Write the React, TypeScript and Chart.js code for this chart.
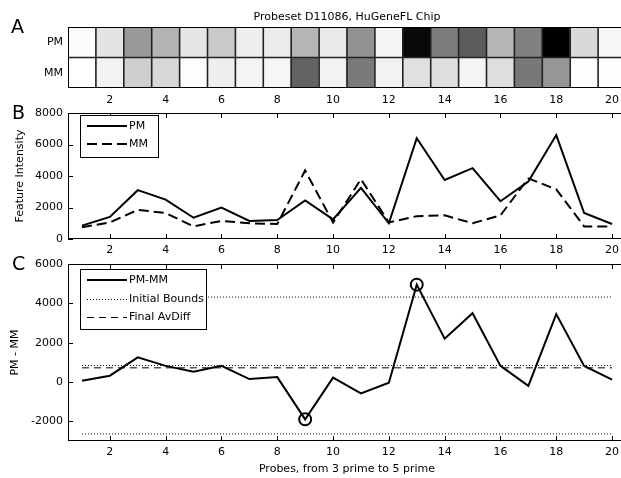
import React, { useEffect, useRef } from "react";
import { Chart, registerables } from "chart.js";

Chart.register(...registerables);

// ---------- data ----------
const probes = [1, 2, 3, 4, 5, 6, 7, 8, 9, 10, 11, 12, 13, 14, 15, 16, 17, 18, 19, 20];
const pmValues = [850, 1400, 3100, 2500, 1350, 2000, 1150, 1200, 2450, 1250, 3250, 1000, 6400, 3750, 4500, 2400, 3650, 6600, 1650, 950];
const mmValues = [750, 1050, 1850, 1650, 800, 1150, 1000, 950, 4350, 1050, 3800, 1050, 1450, 1500, 1000, 1500, 3850, 3150, 800, 800];
const diffValues = [60, 320, 1250, 820, 520, 820, 150, 250, -1900, 220, -580, -40, 4950, 2200, 3500, 820, -200, 3450, 820, 120];
const initialBounds = [4320, 840, -2640];
const finalAvDiff = 720;
const outlierProbes = [9, 13];
const xTickValues = [2, 4, 6, 8, 10, 12, 14, 16, 18, 20];
const intensityTicks = [0, 2000, 4000, 6000, 8000];
const diffTicks = [-2000, 0, 2000, 4000, 6000];
const rowLabels = ["PM", "MM"];
const chartTitle = "Probeset D11086, HuGeneFL Chip";
const xAxisTitle = "Probes, from 3 prime to 5 prime";
const intensityTitle = "Feature Intensity";
const diffTitle = "PM - MM";

// ---------- styling / layout ----------
const FONT = '"DejaVu Sans", sans-serif';
const CW = 640;
const CH = 478;
const AXIS_W = 68;
const RIGHT_PAD = CW - 626;

const allVals = [...pmValues, ...mmValues];
const vMin = Math.min(...allVals);
const vMax = Math.max(...allVals);
const grayFor = (v: number) => {
  const g = Math.round(255 * (1 - (v - vMin) / (vMax - vMin)));
  return `rgb(${g},${g},${g})`;
};

type FrameOpts = {
  letter?: { text: string; x: number; y: number };
  title?: { text: string; y: number };
  ticks?: boolean;
  cellGrid?: boolean;
  legend?: { x: number; y: number; w: number; h: number; items: { dataset: number; y: number }[] };
};

const framePlugin = {
  id: "frame",
  afterDraw(chart: any, _args: any, opts: FrameOpts) {
    const { ctx, chartArea: ca } = chart;
    const L = Math.round(ca.left);
    const T = Math.round(ca.top);
    const R = Math.round(ca.right);
    const B = Math.round(ca.bottom);
    ctx.save();
    ctx.strokeStyle = "#000";
    ctx.lineWidth = 1;
    ctx.setLineDash([]);
    if (opts.cellGrid) {
      const xs = chart.scales.x;
      const ys = chart.scales.y;
      ctx.strokeStyle = "#222";
      ctx.lineWidth = 1.6;
      ctx.beginPath();
      for (let i = 1; i < probes.length; i++) {
        const px = (xs.getPixelForValue(i - 1) + xs.getPixelForValue(i)) / 2;
        ctx.moveTo(px, T);
        ctx.lineTo(px, B);
      }
      for (let r = 1; r < rowLabels.length; r++) {
        const py = ys.getPixelForValue(r);
        ctx.moveTo(L, py);
        ctx.lineTo(R, py);
      }
      ctx.stroke();
      ctx.strokeStyle = "#000";
      ctx.lineWidth = 1;
    }
    if (opts.ticks) {
      const xs = chart.scales.x;
      const ys = chart.scales.y;
      const len = 5;
      ctx.beginPath();
      xs.ticks.forEach((t: any) => {
        const px = Math.round(xs.getPixelForValue(t.value)) + 0.5;
        ctx.moveTo(px, B);
        ctx.lineTo(px, B - len);
        ctx.moveTo(px, T);
        ctx.lineTo(px, T + len);
      });
      ys.ticks.forEach((t: any) => {
        const py = Math.round(ys.getPixelForValue(t.value)) + 0.5;
        ctx.moveTo(L, py);
        ctx.lineTo(L + len, py);
      });
      ctx.stroke();
    }
    if (opts.legend) {
      const lg = opts.legend;
      ctx.fillStyle = "#fff";
      ctx.fillRect(lg.x, lg.y, lg.w, lg.h);
      ctx.strokeRect(lg.x + 0.5, lg.y + 0.5, lg.w, lg.h);
      ctx.font = `11px ${FONT}`;
      ctx.textBaseline = "middle";
      ctx.textAlign = "left";
      lg.items.forEach((it) => {
        const ds = chart.data.datasets[it.dataset];
        ctx.save();
        ctx.lineWidth = ds.borderWidth;
        ctx.setLineDash(ds.borderDash || []);
        ctx.strokeStyle = ds.borderColor;
        const yy = ds.borderWidth % 2 === 1 ? Math.round(it.y) + 0.5 : Math.round(it.y);
        ctx.beginPath();
        ctx.moveTo(lg.x + 7, yy);
        ctx.lineTo(lg.x + 47, yy);
        ctx.stroke();
        ctx.restore();
        ctx.fillStyle = "#000";
        ctx.fillText(ds.label, lg.x + 49, it.y + 0.5);
      });
    }
    ctx.strokeStyle = "#000";
    ctx.lineWidth = 1;
    ctx.setLineDash([]);
    ctx.strokeRect(L + 0.5, T + 0.5, R - L - 1, B - T - 1);
    ctx.fillStyle = "#000";
    if (opts.letter) {
      ctx.font = `19px ${FONT}`;
      ctx.textAlign = "left";
      ctx.textBaseline = "alphabetic";
      ctx.fillText(opts.letter.text, opts.letter.x, opts.letter.y);
    }
    if (opts.title) {
      ctx.font = `11px ${FONT}`;
      ctx.textAlign = "center";
      ctx.textBaseline = "middle";
      ctx.fillText(opts.title.text, (L + R) / 2, opts.title.y);
    }
    ctx.restore();
  },
};

const tickFont = { family: FONT, size: 11 };
const plainNumber = (v: any) => String(v);

const baseOptions = (padTop: number, frame: FrameOpts) => ({
  animation: false as const,
  responsive: false,
  devicePixelRatio: 1,
  events: [] as any[],
  layout: { padding: { top: padTop, left: 0, right: RIGHT_PAD, bottom: 0 } },
  plugins: {
    legend: { display: false },
    tooltip: { enabled: false },
    frame,
  },
});

const linearX = (height: number, title?: string) => ({
  type: "linear" as const,
  min: 0.5,
  max: 20.5,
  grid: { display: false, drawTicks: false },
  border: { display: false },
  afterBuildTicks: (s: any) => {
    s.ticks = xTickValues.map((v) => ({ value: v }));
  },
  afterFit: (s: any) => {
    s.height = height;
  },
  ticks: { font: tickFont, color: "#000", padding: 5, maxRotation: 0, autoSkip: false, callback: plainNumber },
  title: title
    ? { display: true, text: title, font: tickFont, color: "#000", padding: { top: 0, bottom: 2 } }
    : { display: false },
});

const linearY = (min: number, max: number, ticks: number[], title: string, titlePad: number) => ({
  type: "linear" as const,
  min,
  max,
  grid: { display: false, drawTicks: false },
  border: { display: false },
  afterBuildTicks: (s: any) => {
    s.ticks = ticks.map((v) => ({ value: v }));
  },
  afterFit: (s: any) => {
    s.width = AXIS_W;
  },
  ticks: { font: tickFont, color: "#000", padding: 5, callback: plainNumber },
  title: { display: true, text: title, font: tickFont, color: "#000", padding: { top: titlePad, bottom: 0 } },
});

export default function App() {
  const refA = useRef<HTMLCanvasElement>(null);
  const refB = useRef<HTMLCanvasElement>(null);
  const refC = useRef<HTMLCanvasElement>(null);

  useEffect(() => {
    const charts: Chart[] = [];

    // Panel A: heat map of PM / MM intensities
    charts.push(
      new Chart(refA.current!, {
        type: "bar",
        data: {
          labels: probes.map(String),
          datasets: rowLabels.map((row, r) => {
            const vals = row === "PM" ? pmValues : mmValues;
            const lo = rowLabels.length - 1 - r;
            return {
              label: row,
              data: probes.map(() => [lo, lo + 1]),
              backgroundColor: vals.map(grayFor),
              borderWidth: 0,
              borderSkipped: false,
              grouped: false,
              barPercentage: 1,
              categoryPercentage: 1,
              inflateAmount: 0.5,
            } as any;
          }),
        },
        options: {
          ...baseOptions(27, {
            letter: { text: "A", x: 11, y: 33 },
            title: { text: chartTitle, y: 17 },
            cellGrid: true,
          }),
          scales: {
            x: {
              type: "category",
              offset: true,
              grid: { display: false, drawTicks: false },
              border: { display: false },
              afterFit: (s: any) => {
                s.height = CH - 88;
              },
              ticks: {
                font: tickFont,
                color: "#000",
                padding: 6,
                autoSkip: false,
                maxRotation: 0,
                callback: (_v: any, idx: number) =>
                  xTickValues.includes(probes[idx]) ? String(probes[idx]) : "",
              },
            },
            y: {
              type: "linear",
              min: 0,
              max: rowLabels.length,
              grid: { display: false, drawTicks: false },
              border: { display: false },
              afterBuildTicks: (s: any) => {
                s.ticks = rowLabels.map((_, i) => ({ value: i + 0.5 }));
              },
              afterFit: (s: any) => {
                s.width = AXIS_W;
              },
              ticks: {
                font: tickFont,
                color: "#000",
                padding: 5,
                callback: (v: any) => rowLabels[rowLabels.length - 1 - Math.floor(Number(v))],
              },
            },
          },
        } as any,
        plugins: [framePlugin as any],
      })
    );

    // Panel B: PM and MM intensities
    charts.push(
      new Chart(refB.current!, {
        type: "line",
        data: {
          datasets: [
            {
              label: "PM",
              data: probes.map((p, i) => ({ x: p, y: pmValues[i] })),
              borderColor: "#000",
              borderWidth: 2,
              borderDash: [],
              pointRadius: 0,
              tension: 0,
            },
            {
              label: "MM",
              data: probes.map((p, i) => ({ x: p, y: mmValues[i] })),
              borderColor: "#000",
              borderWidth: 2,
              borderDash: [10, 5],
              pointRadius: 0,
              tension: 0,
            },
          ],
        },
        options: {
          ...baseOptions(113, {
            letter: { text: "B", x: 12, y: 119 },
            ticks: true,
            legend: {
              x: 80,
              y: 115,
              w: 78,
              h: 42,
              items: [
                { dataset: 0, y: 126 },
                { dataset: 1, y: 144 },
              ],
            },
          }),
          scales: {
            x: linearX(CH - 239),
            y: linearY(0, 8000, intensityTicks, intensityTitle, 14),
          },
        } as any,
        plugins: [framePlugin as any],
      })
    );

    // Panel C: PM - MM with bounds
    const first = probes[0];
    const last = probes[probes.length - 1];
    const boundSets = initialBounds.map((b, i) => ({
      label: i === 0 ? "Initial Bounds" : "",
      data: [
        { x: first, y: b },
        { x: last, y: b },
      ],
      borderColor: "#000",
      borderWidth: 1,
      borderDash: [1, 2],
      pointRadius: 0,
    }));
    charts.push(
      new Chart(refC.current!, {
        type: "line",
        data: {
          datasets: [
            {
              label: "PM-MM",
              data: probes.map((p, i) => ({ x: p, y: diffValues[i] })),
              borderColor: "#000",
              borderWidth: 2,
              borderDash: [],
              pointRadius: 0,
              tension: 0,
            },
            ...boundSets,
            {
              label: "Final AvDiff",
              data: [
                { x: first, y: finalAvDiff },
                { x: last, y: finalAvDiff },
              ],
              borderColor: "#000",
              borderWidth: 1,
              borderDash: [7, 5],
              pointRadius: 0,
            },
            {
              label: "outliers",
              data: outlierProbes.map((p) => ({ x: p, y: diffValues[probes.indexOf(p)] })),
              showLine: false,
              borderColor: "#000",
              pointRadius: 6,
              pointBorderWidth: 2,
              pointBorderColor: "#000",
              pointBackgroundColor: "rgba(0,0,0,0)",
            },
          ],
        },
        options: {
          ...baseOptions(264, {
            letter: { text: "C", x: 12, y: 270 },
            ticks: true,
            legend: {
              x: 80,
              y: 269,
              w: 126,
              h: 60,
              items: [
                { dataset: 0, y: 280 },
                { dataset: 1, y: 299 },
                { dataset: 4, y: 317 },
              ],
            },
          }),
          scales: {
            x: linearX(CH - 441, xAxisTitle),
            y: linearY(-3000, 6000, diffTicks, diffTitle, 9),
          },
        } as any,
        plugins: [framePlugin as any],
      })
    );

    return () => charts.forEach((c) => c.destroy());
  }, []);

  const cs: React.CSSProperties = { position: "absolute", left: 0, top: 0 };
  return (
    <div
      style={{
        position: "absolute",
        left: 0,
        top: 0,
        width: 621,
        height: 478,
        overflow: "hidden",
        background: "#fff",
      }}
    >
      <canvas ref={refA} width={CW} height={CH} style={cs} />
      <canvas ref={refB} width={CW} height={CH} style={cs} />
      <canvas ref={refC} width={CW} height={CH} style={cs} />
    </div>
  );
}
